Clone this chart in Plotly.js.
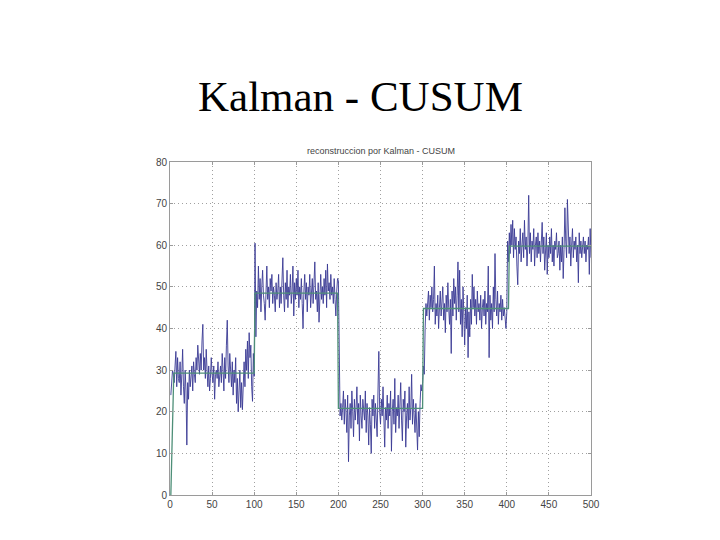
<!DOCTYPE html>
<html>
<head>
<meta charset="utf-8">
<script src="https://cdn.plot.ly/plotly-3.0.1.min.js"></script>
<style>
html,body{margin:0;padding:0;background:#fff;}
#chart{width:720px;height:540px;}
</style>
</head>
<body>
<div id="chart"></div>
<script>
// Measured signal (blue), one value per sample, samples 1..500
const seg1 = [24,28,30,29,27,31,34.5,26,33,28, 27,32,24,29,35,26,22,30,25,12,
  27,23,30,26,28,31,25,32,29,27, 33,30,36,31,29,34,30,37,41,30,
  33,28,35,30,26,31,25,28,33,29, 27,31,23,29,30,28,32,26,29,31,
  27,34,30,25,33,28,36,42,31,27, 34,29,26,32,24,30,27,33,22,28,
  20,25,30,21,27,20.5,29,32,26,35, 30,37,28,39,33,36,26,22.5,34,28.5];
const seg2 = [60.5,38,49,45,55,47,52,44,50,54, 48,46,42,51,55,47,50,45,52,49,
  53,46,50,48,44,51,47,49,53,45, 50,46,52,57,48,44,51,47,54,45,
  50,48,53,46,49,55,43,51,47,52, 48,54,45,50,47,52,46,40,49,53,
  47,51,44,50,48,53,45,49,52,46, 50,56,47,49,44,51,41.5,48,53,47,
  50,46,52,48,54,45,55.5,49,51,47, 53,48,50,46,52,47,43,49,52,51.5];
const seg3 = [40,19,22,18,21,25,17,23,20,15, 24,8,19,22,16,25,20,14,23,18,
  21,26,17,22,13,24,19,16,23,20, 18,25,15,22,19,12,21,17,10,23,
  19,24,16,22,18,14,25,34.5,20,17, 23,19,26,15,11.5,21,18,24,16,22,
  19,25,10.5,20,23,17,28,15,21,19, 24,16,22,27,18,13,23,20,25,11.5,
  19,22,16,26,18,21,29,17,23,19, 15,22,18,10.8,20,14,22,26.5,25,27];
const seg4 = [31,29,40,46,43,47,49,42,48,45, 50,44,47,55,41,46,43,48,40,45,
  49,43,47,50,42,46,39,48,44,51, 45,41,47,34,49,43,52,46,50,42,
  48,56,44,54,41,47,38,50,43,36, 45,40,48,33,44,38,47,41,53,45,
  50,43,47,41,49,44,46,42,48,40, 45,47,43,49,41,46,44,55,33,48,
  42,46,40,50,44,58,47,43,49,41, 46,44,48,42,47,43,45,41,40,44];
const seg5 = [61,56,63,58,65,60,66,57,64,59, 62,55,50.5,61,58,64,56,60,63,57,
  66,59,62,55,60,72,58,63,56,61, 59,64,55,60,62,57,63,58,61,56,
  60,65.5,58,62,54,59,63,53,60,57, 62,58,64,56,60,55,61,59,63,57,
  58,61,54,60,56,62,52,59,69,61, 57,71,63,58,62,55,60,64,57,61,
  59,62,56,60,51,63,58,61,57,60, 62,58,61,56,60,59,62,53,64,57];
const signal = seg1.concat(seg2, seg3, seg4, seg5);
const sampleX = signal.map((v, i) => i + 1);

// Kalman - CUSUM reconstruction (green step)
const reconX = [1, 3, 4.5, 100, 101, 199, 200, 300, 301, 402, 403, 500];
const reconY = [0, 15, 29.3, 29.3, 48.5, 48.5, 20.8, 20.8, 44.8, 44.8, 59.8, 59.8];

// Tick labels
const xTicks = [0, 50, 100, 150, 200, 250, 300, 350, 400, 450, 500];
const yTicks = [0, 10, 20, 30, 40, 50, 60, 70, 80];

const traces = [
  {x: sampleX, y: signal, type: 'scatter', mode: 'lines',
   line: {color: '#3a3a94', width: 0.9}, hoverinfo: 'skip'},
  {x: reconX, y: reconY, type: 'scatter', mode: 'lines',
   line: {color: '#4e8f78', width: 1.3}, hoverinfo: 'skip'}
];

const axisCommon = {
  showline: true, linecolor: '#9a9a9a', linewidth: 1, mirror: 'ticks',
  ticks: 'inside', ticklen: 3, tickcolor: '#9a9a9a',
  showgrid: true, gridcolor: '#a0a0a0', griddash: '1px,3px', gridwidth: 1,
  zeroline: false,
  tickfont: {family: 'Liberation Sans, Arial, sans-serif', size: 10, color: '#444'}
};

const layout = {
  width: 720, height: 540,
  paper_bgcolor: '#ffffff', plot_bgcolor: '#ffffff',
  showlegend: false,
  margin: {l: 170, r: 129, t: 162, b: 45},
  xaxis: Object.assign({}, axisCommon, {range: [0, 500], tickvals: xTicks, ticktext: xTicks.map(String)}),
  yaxis: Object.assign({}, axisCommon, {range: [0, 80], tickvals: yTicks, ticktext: yTicks.map(String)}),
  annotations: [
    {text: 'Kalman - CUSUM', xref: 'paper', yref: 'paper', x: 0.453, y: 1, yshift: 66,
     xanchor: 'center', yanchor: 'middle', showarrow: false,
     font: {family: 'Liberation Serif, Times New Roman, serif', size: 43, color: '#000'}},
    {text: 'reconstruccion por Kalman - CUSUM', xref: 'paper', yref: 'paper', x: 0.5, y: 1, yshift: 11,
     xanchor: 'center', yanchor: 'middle', showarrow: false,
     font: {family: 'Liberation Sans, Arial, sans-serif', size: 9, color: '#444'}}
  ]
};

Plotly.newPlot('chart', traces, layout, {staticPlot: true, displayModeBar: false});
</script>
</body>
</html>
